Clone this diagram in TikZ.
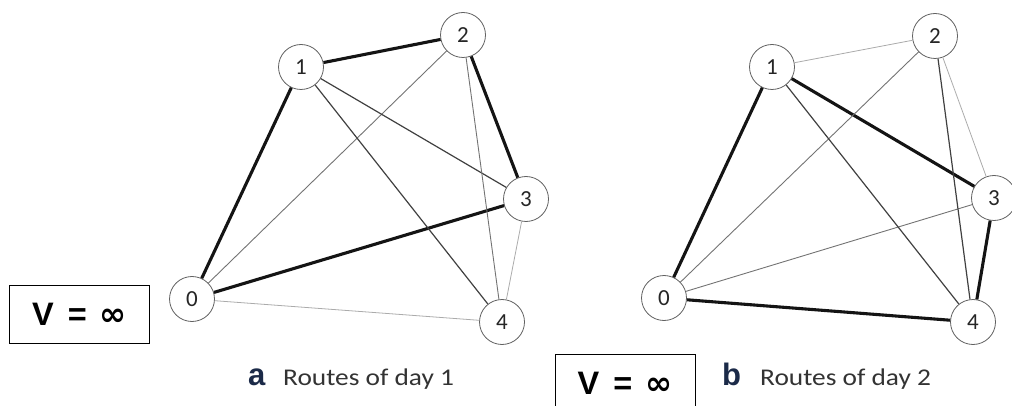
\documentclass[tikz,border=0pt]{standalone}
\usepackage{fontspec}
\setmainfont{Carlito}
\newfontfamily\boxfont{Liberation Sans}
\newfontfamily\symfont{DejaVu Sans}
\definecolor{tagblue}{HTML}{1B2A48}
\begin{document}
\begin{tikzpicture}[x=1pt,y=-1pt,
  vertex/.style={circle,draw=black!62,line width=0.8pt,fill=white,minimum size=45pt,
    inner sep=0pt,font=\fontsize{23}{23}\selectfont,text=black!85},
  heavy/.style={line width=3.1pt,draw=black!92},
  medium/.style={line width=1.2pt,draw=black!75},
  thin/.style={line width=0.9pt,draw=black!55},
  faint/.style={line width=0.8pt,draw=black!33},
  vbox/.style={draw,line width=1pt,minimum width=140pt,minimum height=58pt,inner sep=0pt,
    font=\boxfont\bfseries\fontsize{32.5}{33}\selectfont},
  caption/.style={anchor=base west,font=\fontsize{24}{24}\selectfont,text=black!80},
  tag/.style={anchor=base west,font=\boxfont\bfseries\fontsize{31}{31}\selectfont,text=tagblue}]
\useasboundingbox (0,0) rectangle (1012,406);

% ---- routes of day 1 ----
\node[vertex] (a0) at (192,299) {0};
\node[vertex] (a1) at (301,67) {1};
\node[vertex] (a2) at (463,35) {2};
\node[vertex] (a3) at (526,199) {3};
\node[vertex] (a4) at (502,322) {4};
\draw[heavy] (a0) -- (a1);
\draw[heavy] (a1) -- (a2);
\draw[heavy] (a2) -- (a3);
\draw[heavy] (a3) -- (a0);
\draw[thin] (a0) -- (a2);
\draw[medium] (a1) -- (a3);
\draw[medium] (a1) -- (a4);
\draw[thin] (a2) -- (a4);
\draw[faint] (a3) -- (a4);
\draw[faint] (a0) -- (a4);

% ---- routes of day 2 ----
\node[vertex] (b0) at (664,298) {0};
\node[vertex] (b1) at (772,67) {1};
\node[vertex] (b2) at (935,36) {2};
\node[vertex] (b3) at (994,198) {3};
\node[vertex] (b4) at (973,322) {4};
\draw[heavy] (b0) -- (b1);
\draw[heavy] (b1) -- (b3);
\draw[heavy] (b3) -- (b4);
\draw[heavy] (b4) -- (b0);
\draw[faint] (b1) -- (b2);
\draw[faint] (b2) -- (b3);
\draw[thin] (b0) -- (b2);
\draw[thin] (b0) -- (b3);
\draw[medium] (b1) -- (b4);
\draw[medium] (b2) -- (b4);

% ---- speed boxes ----
\node[vbox] (va) at (79.5,314) {V\hspace{14pt}=\hspace{13pt}{\symfont ∞}};
\node[vbox] (vb) at (625,383) {V\hspace{14pt}=\hspace{13pt}{\symfont ∞}};

% ---- captions ----
\node[tag,inner sep=0pt] (ta) at (248,385) {a};
\node[caption,inner sep=0pt] (ca) at (283,385) {\scalebox{1.14}[1]{Routes of day 1}};
\node[tag,inner sep=0pt] (tb) at (722,385) {b};
\node[caption,inner sep=0pt] (cb) at (760,385) {\scalebox{1.14}[1]{Routes of day 2}};
\end{tikzpicture}
\end{document}
